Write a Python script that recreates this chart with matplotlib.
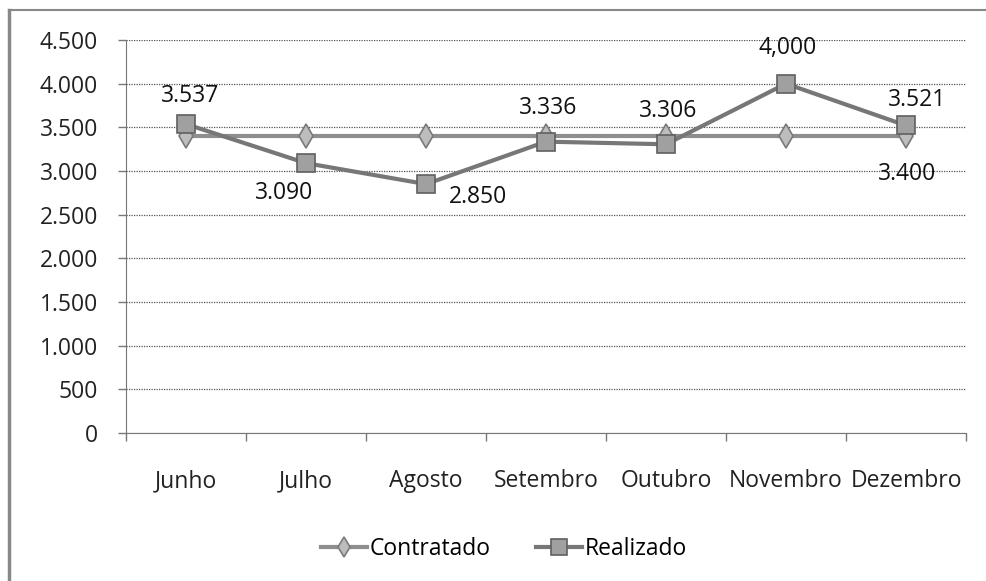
import matplotlib
matplotlib.use("Agg")
import matplotlib.pyplot as plt
from matplotlib.lines import Line2D

months = ["Junho", "Julho", "Agosto", "Setembro", "Outubro", "Novembro", "Dezembro"]
contratado = [3400, 3400, 3400, 3400, 3400, 3400, 3400]
realizado = [3537, 3090, 2850, 3336, 3306, 4000, 3521]
realizado_labels = ["3.537", "3.090", "2.850", "3.336", "3.306", "4,000", "3.521"]
contratado_label = "3.400"
yticks = [0, 500, 1000, 1500, 2000, 2500, 3000, 3500, 4000, 4500]
ytick_labels = ["0", "500", "1.000", "1.500", "2.000", "2.500", "3.000", "3.500", "4.000", "4.500"]

plt.rcParams['font.family'] = ['Open Sans', 'DejaVu Sans']
FS = 16.5

W, H = 986, 581
fig = plt.figure(figsize=(W / 100, H / 100), dpi=100)
fig.patch.set_facecolor("white")

ax = fig.add_axes([126 / W, 1 - 433 / H, 840 / W, 393 / H])
x = list(range(len(months)))

ax.plot(x, contratado, color="#8e8e8e", lw=3.0, marker="d", ms=12,
        markerfacecolor="#bdbdbd", markeredgecolor="#7a7a7a", markeredgewidth=1.2,
        label="Contratado", zorder=3)
ax.plot(x, realizado, color="#777777", lw=3.0, marker="s", ms=13,
        markerfacecolor="#a0a0a0", markeredgecolor="#606060", markeredgewidth=1.2,
        label="Realizado", zorder=4)

ax.set_xlim(-0.5, len(months) - 0.5)
ax.set_ylim(0, 4500)
ax.set_yticks(yticks)
ax.set_yticklabels(ytick_labels)
ax.set_xticks(x)
ax.set_xticklabels(months)
ax.set_xticks([i - 0.5 for i in range(len(months) + 1)], minor=True)
ax.tick_params(axis="x", which="major", length=0, pad=26, labelsize=FS, colors="#222222")
ax.tick_params(axis="x", which="minor", length=6, width=1, color="#777777")
ax.tick_params(axis="y", length=6, width=1, color="#777777", pad=14, labelsize=FS, labelcolor="#222222")

ax.grid(axis="y", color="#555555", lw=0.9, ls=(0, (1, 1)))
ax.set_axisbelow(True)
for s in ["top", "right"]:
    ax.spines[s].set_visible(False)
ax.spines["left"].set_color("#777777")
ax.spines["bottom"].set_color("#777777")

offsets = [(4, 28), (-22, -30), (52, -13), (2, 34), (2, 33), (2, 36), (11, 25)]
for i, (v, lab) in enumerate(zip(realizado, realizado_labels)):
    ax.annotate(lab, (x[i], v), xytext=offsets[i], textcoords="offset pixels",
                ha="center", va="center", fontsize=FS, color="#111111")
ax.annotate(contratado_label, (x[-1], contratado[-1]), xytext=(1, -38),
            textcoords="offset pixels", ha="center", va="center", fontsize=FS, color="#111111")

leg = fig.legend(loc="center", bbox_to_anchor=(504 / W, 1 - 549 / H), ncol=2, frameon=False,
                 fontsize=FS, handlelength=2.0, columnspacing=2.0, handletextpad=0.1,
                 markerscale=0.85)

# outer frame
fig.add_artist(Line2D([9 / W, 9 / W], [0, 1 - 10 / H], color="#888888", lw=2.5))
fig.add_artist(Line2D([9 / W, 1], [1 - 10 / H, 1 - 10 / H], color="#888888", lw=1.5))

fig.savefig("out.png", dpi=100)
